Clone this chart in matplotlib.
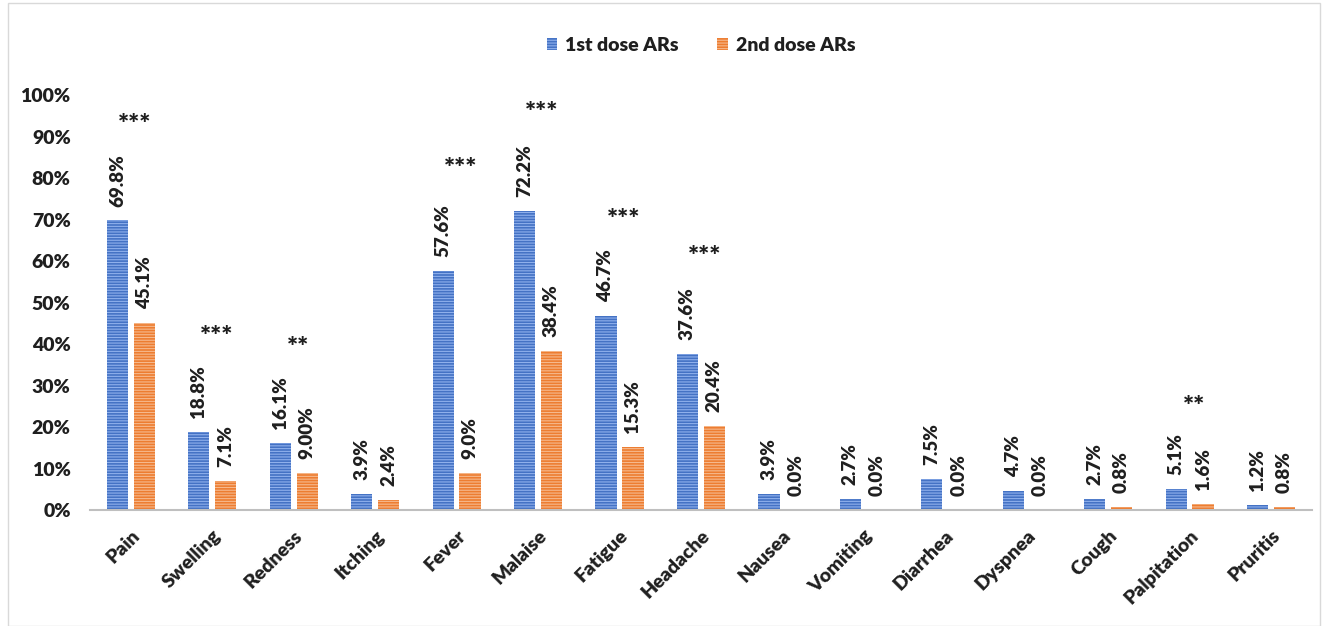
import numpy as np
import matplotlib.pyplot as plt
from matplotlib.patches import Rectangle

plt.rcParams['font.family'] = ['Lato', 'DejaVu Sans']
plt.rcParams['font.weight'] = 'heavy'
plt.rcParams['hatch.linewidth'] = 0.8

symptoms = ['Pain', 'Swelling', 'Redness', 'Itching', 'Fever', 'Malaise', 'Fatigue',
            'Headache', 'Nausea', 'Vomiting', 'Diarrhea', 'Dyspnea', 'Cough',
            'Palpitation', 'Pruritis']
dose1 = [69.8, 18.8, 16.1, 3.9, 57.6, 72.2, 46.7, 37.6, 3.9, 2.7, 7.5, 4.7, 2.7, 5.1, 1.2]
dose2 = [45.1, 7.1, 9.0, 2.4, 9.0, 38.4, 15.3, 20.4, 0.0, 0.0, 0.0, 0.0, 0.8, 1.6, 0.8]
dose1_labels = ['69.8%', '18.8%', '16.1%', '3.9%', '57.6%', '72.2%', '46.7%', '37.6%',
                '3.9%', '2.7%', '7.5%', '4.7%', '2.7%', '5.1%', '1.2%']
dose2_labels = ['45.1%', '7.1%', '9.00%', '2.4%', '9.0%', '38.4%', '15.3%', '20.4%',
                '0.0%', '0.0%', '0.0%', '0.0%', '0.8%', '1.6%', '0.8%']

# significance markers: (symptom index, stars, height in %)
sig_idx = [0, 1, 2, 4, 5, 6, 7, 13]
sig_txt = ['***', '***', '**', '***', '***', '***', '***', '**']
sig_y = [92.8, 41.7, 39.0, 82.2, 95.7, 69.9, 61.0, 24.8]

blue, blue_hatch = '#4472C4', '#8FB0EC'
orange, orange_hatch = '#ED7D31', '#F6B98D'
ink = '#1F1F1F'

fig = plt.figure(figsize=(13.25, 6.26), dpi=100)
ax = fig.add_axes([0.068, 0.185, 0.922, 0.663])

x = np.arange(len(symptoms))
w = 0.26
gap = 0.035
b1 = ax.bar(x - w / 2 - gap, dose1, w, color=blue, edgecolor=blue_hatch,
            linewidth=0, hatch='------', label='1st dose ARs')
b2 = ax.bar(x + w / 2 + gap, dose2, w, color=orange, edgecolor=orange_hatch,
            linewidth=0, hatch='------', label='2nd dose ARs')

for bars, labs in [(b1, dose1_labels), (b2, dose2_labels)]:
    for r, lab in zip(bars, labs):
        ax.annotate(lab, (r.get_x() + r.get_width() / 2, r.get_height()),
                    xytext=(0, 10), textcoords='offset points', rotation=90,
                    ha='center', va='bottom', fontsize=13.5, color=ink)

for i, s, yv in zip(sig_idx, sig_txt, sig_y):
    ax.text(x[i] + 0.05, yv, s, ha='center', va='center', fontsize=19,
            color=ink)

ax.set_xlim(-0.5, len(symptoms) - 0.5)
ax.set_ylim(0, 100)
ax.set_yticks(np.arange(0, 101, 10))
ax.set_yticklabels([f'{v}%' for v in range(0, 101, 10)], fontsize=14, color=ink)
ax.set_xticks(x)
ax.set_xticklabels(symptoms, rotation=45, ha='right', rotation_mode='anchor',
                   fontsize=14, color=ink)
ax.tick_params(axis='both', length=0)
ax.tick_params(axis='x', pad=12)
ax.tick_params(axis='y', pad=14)
for side in ['top', 'right', 'left']:
    ax.spines[side].set_visible(False)
ax.spines['bottom'].set_color('#BFBFBF')
ax.spines['bottom'].set_linewidth(1.5)

ax.legend(loc='center', bbox_to_anchor=(0.5, 1.12), ncol=2, frameon=False,
          fontsize=14, handlelength=0.55, handleheight=0.55, columnspacing=2.0,
          handletextpad=0.4, labelcolor=ink)

fig.patches.append(Rectangle((0.006, 0.0), 0.99, 0.995, transform=fig.transFigure,
                             fill=False, edgecolor='#D9D9D9', linewidth=1))

fig.savefig('out.png', dpi=100)
